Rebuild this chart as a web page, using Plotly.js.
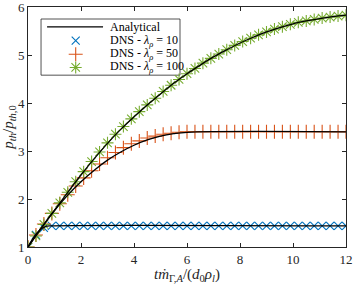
<!DOCTYPE html>
<html>
<head>
<meta charset="utf-8">
<script src="https://cdn.plot.ly/plotly-3.0.1.min.js"></script>
<style>html,body{margin:0;padding:0;background:#fff}#chart{width:354px;height:284px}</style>
</head>
<body>
<div id="chart"></div>
<script>
// Analytical curves
const anaX10 = [0, 0.1, 0.2, 0.3, 0.4, 0.5, 0.6, 0.7, 0.8, 12];
const anaY10 = [1.00, 1.10, 1.19, 1.27, 1.33, 1.378, 1.41, 1.433, 1.44, 1.44];
const anaX50 = [0, 0.5, 1, 1.5, 2, 2.5, 3, 3.5, 4, 4.5, 5, 5.5, 6, 12];
const anaY50 = [1.00, 1.40, 1.76, 2.08, 2.36, 2.60, 2.81, 2.98, 3.12, 3.23, 3.31, 3.36, 3.39, 3.40];
const anaX100 = [0, 0.5, 1, 1.5, 2, 2.5, 3, 3.5, 4, 4.5, 5, 5.5, 6, 6.5, 7, 7.5, 8, 8.5, 9, 9.5, 10, 10.5, 11, 11.5, 12];
const anaY100 = [1.00, 1.39, 1.77, 2.14, 2.50, 2.84, 3.16, 3.45, 3.71, 3.96, 4.19, 4.41, 4.61, 4.79, 4.96, 5.11, 5.25, 5.37, 5.48, 5.57, 5.65, 5.71, 5.76, 5.80, 5.83];

// DNS samples
const dnsX = [0, 0.3, 0.6, 0.9, 1.2, 1.5, 1.8, 2.1, 2.4, 2.7, 3.0, 3.3, 3.6, 3.9, 4.2, 4.5, 4.8, 5.1, 5.4, 5.7, 6.0,
              6.3, 6.6, 6.9, 7.2, 7.5, 7.8, 8.1, 8.4, 8.7, 9.0, 9.3, 9.6, 9.9, 10.2, 10.5, 10.8, 11.1, 11.4, 11.7, 12.0];
const dns10 = [1.00, 1.25, 1.40, 1.44, 1.44, 1.44, 1.44, 1.44, 1.44, 1.44, 1.44, 1.44, 1.44, 1.44, 1.44, 1.44, 1.44, 1.44, 1.44, 1.44, 1.44,
               1.44, 1.44, 1.44, 1.44, 1.44, 1.44, 1.44, 1.44, 1.44, 1.44, 1.44, 1.44, 1.44, 1.44, 1.44, 1.44, 1.44, 1.44, 1.44, 1.44];
const dns50 = [1.00, 1.25, 1.48, 1.70, 1.90, 2.09, 2.27, 2.44, 2.59, 2.73, 2.86, 2.97, 3.07, 3.15, 3.21, 3.27, 3.31, 3.35, 3.37, 3.39, 3.40,
               3.40, 3.40, 3.40, 3.40, 3.40, 3.40, 3.40, 3.40, 3.40, 3.40, 3.40, 3.40, 3.40, 3.40, 3.40, 3.40, 3.40, 3.40, 3.40, 3.40];
const dns100 = [1.00, 1.23, 1.47, 1.70, 1.92, 2.14, 2.36, 2.57, 2.78, 2.98, 3.17, 3.35, 3.51, 3.67, 3.82, 3.96, 4.10, 4.24, 4.37, 4.49, 4.61,
                4.72, 4.83, 4.93, 5.02, 5.11, 5.20, 5.28, 5.35, 5.42, 5.48, 5.54, 5.59, 5.64, 5.68, 5.71, 5.74, 5.77, 5.79, 5.81, 5.83];

const legendNames = ['Analytical', 'DNS - <i>λ</i><sub><i>ρ</i></sub> = 10', 'DNS - <i>λ</i><sub><i>ρ</i></sub> = 50', 'DNS - <i>λ</i><sub><i>ρ</i></sub> = 100'];
const xTicks = [0, 2, 4, 6, 8, 10, 12];
const yTicks = [1, 2, 3, 4, 5, 6];

const blue = '#0072BD', orange = '#D95319', green = '#77AC30';
const serif = 'Liberation Serif, Times New Roman, serif';
const axisCol = '#262626';

const mk10 = {symbol: 'x-thin-open', size: 8, color: blue, line: {color: blue, width: 1.1}};
const mk50 = {symbol: 'cross-thin-open', size: 10, color: orange, line: {color: orange, width: 1.1}};
const mk100 = {symbol: 'asterisk-open', size: 10, color: green, line: {color: green, width: 1.1}};

// legend layout (fractions of the plot area)
const legRowY = [0.917, 0.860, 0.803, 0.748];

const traces = [
  {x: dnsX, y: dns10, mode: 'markers', name: legendNames[1], marker: mk10},
  {x: dnsX, y: dns50, mode: 'markers', name: legendNames[2], marker: mk50},
  {x: dnsX, y: dns100, mode: 'markers', name: legendNames[3], marker: mk100},
  {x: anaX10, y: anaY10, mode: 'lines', name: legendNames[0], line: {color: '#000', width: 1.3, shape: 'spline'}},
  {x: anaX50, y: anaY50, mode: 'lines', name: legendNames[0], line: {color: '#000', width: 1.3, shape: 'spline'}},
  {x: anaX100, y: anaY100, mode: 'lines', name: legendNames[0], line: {color: '#000', width: 1.3, shape: 'spline'}},
  // legend symbols on an overlay axis in plot-fraction units
  {x: [0.150], y: [legRowY[1]], xaxis: 'x2', yaxis: 'y2', mode: 'markers', marker: mk10, hoverinfo: 'skip'},
  {x: [0.150], y: [legRowY[2]], xaxis: 'x2', yaxis: 'y2', mode: 'markers', marker: mk50, hoverinfo: 'skip'},
  {x: [0.150], y: [legRowY[3]], xaxis: 'x2', yaxis: 'y2', mode: 'markers', marker: mk100, hoverinfo: 'skip'}
];

const shapes = [
  {type: 'rect', xref: 'paper', yref: 'paper', x0: 0.041, x1: 0.478, y0: 0.716, y1: 0.95,
   line: {color: axisCol, width: 0.8}, fillcolor: '#fff', layer: 'below'},
  {type: 'line', xref: 'paper', yref: 'paper', x0: 0.060, x1: 0.236, y0: legRowY[0], y1: legRowY[0],
   line: {color: '#000', width: 1.3}}
];

const annotations = legendNames.map((t, i) => ({
  xref: 'paper', yref: 'paper', x: 0.250, y: legRowY[i], xanchor: 'left', yanchor: 'middle',
  text: t, showarrow: false, font: {family: serif, size: 12, color: '#000'}
}));

const layout = {
  width: 354, height: 284,
  margin: {l: 28, r: 8, t: 7, b: 37},
  paper_bgcolor: '#fff', plot_bgcolor: '#fff',
  font: {family: serif, size: 13, color: axisCol},
  showlegend: false,
  shapes: shapes,
  annotations: annotations,
  xaxis: {range: [0, 12], tickvals: xTicks, ticktext: xTicks.map(String),
          ticks: 'inside', ticklen: 4, tickcolor: axisCol, showline: true, linecolor: axisCol, linewidth: 1,
          mirror: 'ticks', showgrid: false, zeroline: false, ticklabeloverflow: 'allow',
          tickfont: {family: serif, size: 13, color: axisCol},
          title: {text: '<i>t</i><i>ṁ</i><sub>Γ,<i>A</i></sub>/(<i>d</i><sub>0</sub><i>ρ</i><sub><i>l</i></sub>)',
                  font: {family: serif, size: 15, color: axisCol}, standoff: 3}},
  yaxis: {range: [1, 6], tickvals: yTicks, ticktext: yTicks.map(String),
          ticks: 'inside', ticklen: 4, tickcolor: axisCol, showline: true, linecolor: axisCol, linewidth: 1,
          mirror: 'ticks', showgrid: false, zeroline: false, ticklabeloverflow: 'allow',
          tickfont: {family: serif, size: 13, color: axisCol},
          title: {text: '<i>p</i><sub><i>th</i></sub>/<i>p</i><sub><i>th</i>,0</sub>',
                  font: {family: serif, size: 15, color: axisCol}, standoff: 2}},
  xaxis2: {overlaying: 'x', range: [0, 1], visible: false, fixedrange: true},
  yaxis2: {overlaying: 'y', range: [0, 1], visible: false, fixedrange: true}
};

Plotly.newPlot('chart', traces, layout, {displayModeBar: false, staticPlot: true});
</script>
</body>
</html>
